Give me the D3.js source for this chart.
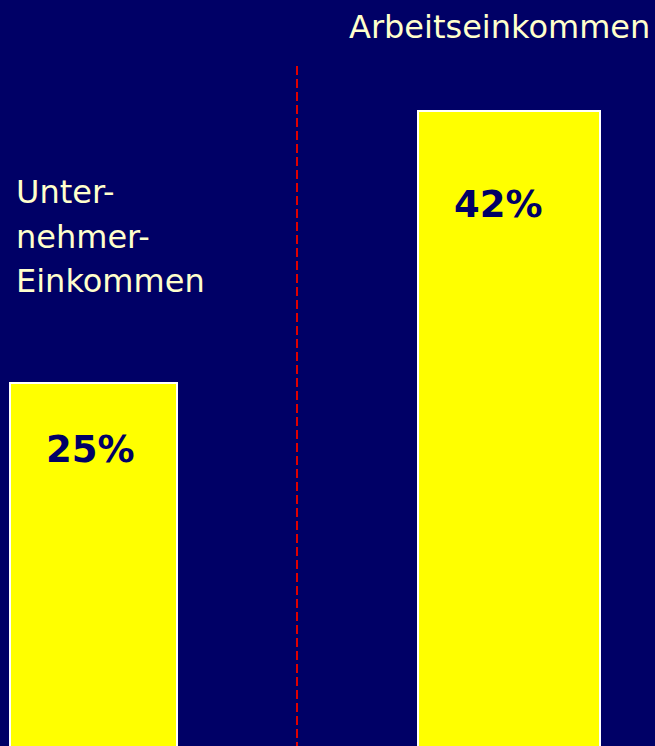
<!DOCTYPE html>
<html>
<head>
<meta charset="utf-8">
<script src="https://cdn.jsdelivr.net/npm/d3@7"></script>
<style>
  html, body { margin: 0; padding: 0; background: #000066; }
  svg { display: block; }
</style>
</head>
<body>
<div id="chart"></div>
<script>
const categories = ['Unternehmer-Einkommen', 'Arbeitseinkommen'];
const values = [25, 42];
const valueLabels = ['25%', '42%'];
const leftLabelLines = ['Unter-', 'nehmer-', 'Einkommen'];
const rightLabel = 'Arbeitseinkommen';

const draw = () => {
  const width = 655;
  const height = 746;
  const svg = d3.select('#chart')
    .append('svg')
    .attr('width', width)
    .attr('height', height);

  svg.append('rect')
    .attr('width', width)
    .attr('height', height)
    .attr('fill', '#000066');

  // bars run past the bottom edge, baseline sits below the frame
  const x = d3.scaleOrdinal()
    .domain(categories)
    .range([10, 418]);
  const barW = d3.scaleOrdinal()
    .domain(categories)
    .range([167, 182]);
  const y = d3.scaleLinear()
    .domain([0, 42])
    .range([783, 111]);

  svg.selectAll('rect.bar')
    .data(values)
    .join('rect')
    .attr('class', 'bar')
    .attr('x', (d, i) => x(categories[i]))
    .attr('y', d => y(d))
    .attr('width', (d, i) => barW(categories[i]))
    .attr('height', d => y(0) - y(d))
    .attr('fill', '#ffff00')
    .attr('stroke', '#ffffff')
    .attr('stroke-width', 2);

  svg.selectAll('text.val')
    .data(values)
    .join('text')
    .attr('class', 'val')
    .attr('x', (d, i) => x(categories[i]) + 36)
    .attr('y', d => y(d) + 79 + (d === 42 ? 27 : 0))
    .attr('font-family', 'Verdana, "DejaVu Sans", sans-serif')
    .attr('font-weight', 'bold')
    .attr('font-size', 37)
    .attr('fill', '#000066')
    .text((d, i) => valueLabels[i]);

  // divider
  svg.append('line')
    .attr('x1', 297).attr('x2', 297)
    .attr('y1', 66).attr('y2', height)
    .attr('stroke', '#e00000')
    .attr('stroke-width', 2)
    .attr('stroke-dasharray', '9,4');

  const labelFont = '"DejaVu Sans", sans-serif';
  svg.append('text')
    .attr('font-family', labelFont)
    .attr('font-size', 32)
    .attr('fill', '#ffffcc')
    .selectAll('tspan')
    .data(leftLabelLines)
    .join('tspan')
    .attr('x', 16)
    .attr('y', (d, i) => 203 + i * 44.5)
    .text(d => d);

  svg.append('text')
    .attr('x', 349)
    .attr('y', 38)
    .attr('font-family', labelFont)
    .attr('font-size', 32)
    .attr('fill', '#ffffcc')
    .text(rightLabel);
};

draw();
</script>
</body>
</html>
